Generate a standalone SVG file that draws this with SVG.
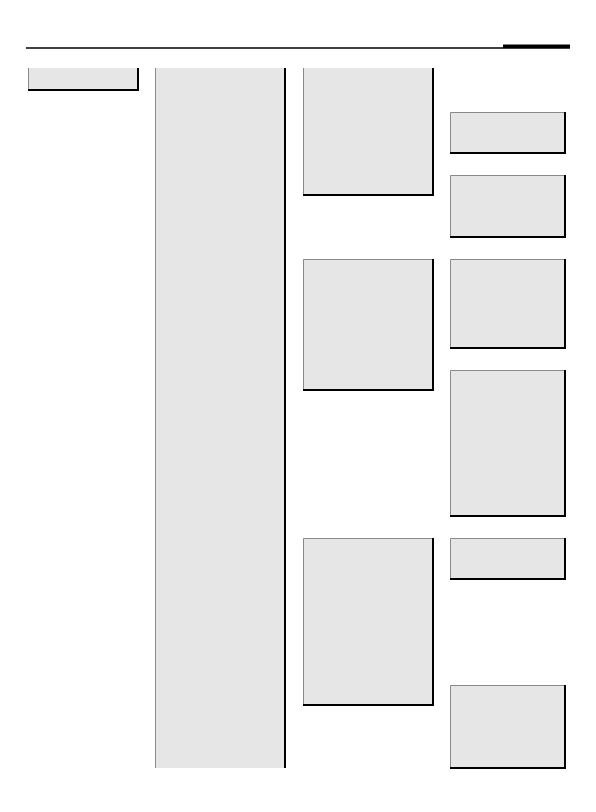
<svg xmlns="http://www.w3.org/2000/svg" width="596" height="812" viewBox="0 0 596 812">
<style>
.f{fill:#e6e6e6}
.g{fill:none;stroke:#8a8a8a;stroke-width:1}
.k{fill:none;stroke:#000;stroke-width:2}
</style>
<rect width="596" height="812" fill="#fff"/>
<g id="header">
<line x1="26" y1="48" x2="570" y2="48" stroke="#000" stroke-width="1.3"/>
<rect x="503" y="44.5" width="67" height="3.5" fill="#000"/>
</g>
<g id="connectors"></g>
<g id="n1"><rect class="f" x="28" y="68" width="111" height="23"/><path class="g" d="M28.5 91V68"/><path class="k" d="M138 68V90H28"/></g>
<g id="n2"><rect class="f" x="155" y="68" width="131" height="700"/><path class="g" d="M155.5 768V68"/><path class="k" d="M285 68V768"/></g>
<g id="n3"><rect class="f" x="303" y="68" width="131" height="128"/><path class="g" d="M303.5 196V68"/><path class="k" d="M433 68V195H303"/></g>
<g id="n4"><rect class="f" x="450" y="112" width="116" height="42"/><path class="g" d="M450.5 154V112.5H566"/><path class="k" d="M565 112V153H450"/></g>
<g id="n5"><rect class="f" x="450" y="175" width="116" height="63"/><path class="g" d="M450.5 238V175.5H566"/><path class="k" d="M565 175V237H450"/></g>
<g id="n6"><rect class="f" x="303" y="259" width="131" height="132"/><path class="g" d="M303.5 391V259.5H434"/><path class="k" d="M433 259V390H303"/></g>
<g id="n7"><rect class="f" x="450" y="259" width="116" height="90"/><path class="g" d="M450.5 349V259.5H566"/><path class="k" d="M565 259V348H450"/></g>
<g id="n8"><rect class="f" x="450" y="370" width="116" height="147"/><path class="g" d="M450.5 517V370.5H566"/><path class="k" d="M565 370V516H450"/></g>
<g id="n9"><rect class="f" x="303" y="538" width="131" height="168"/><path class="g" d="M303.5 706V538.5H434"/><path class="k" d="M433 538V705H303"/></g>
<g id="n10"><rect class="f" x="450" y="538" width="116" height="42"/><path class="g" d="M450.5 580V538.5H566"/><path class="k" d="M565 538V579H450"/></g>
<g id="n11"><rect class="f" x="450" y="685" width="116" height="84"/><path class="g" d="M450.5 769V685.5H566"/><path class="k" d="M565 685V768H450"/></g>
</svg>
